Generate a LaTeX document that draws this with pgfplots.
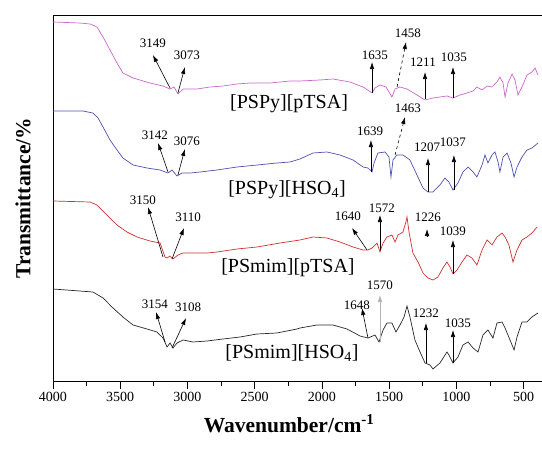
\documentclass[border=0pt]{standalone}
\usepackage{fontspec}
\setmainfont{Liberation Serif}
\usepackage{pgfplots}
\pgfplotsset{compat=1.18}
\usetikzlibrary{arrows.meta}
\definecolor{cmag}{RGB}{204,102,204}
\definecolor{cblu}{RGB}{80,80,176}
\definecolor{cred}{RGB}{208,48,48}
\definecolor{cblk}{RGB}{40,40,40}
\tikzset{arr/.style={-{Latex[length=7pt,width=4.5pt]}, line width=0.6pt, black},
 num/.style={font=\fontsize{13}{15}\selectfont, inner sep=0pt},
 lab/.style={font=\fontsize{20}{24}\selectfont, inner sep=0pt}}
\begin{document}
\begin{tikzpicture}
\begin{axis}[name=ax, scale only axis, width=492pt, height=366pt,
 x dir=reverse, xmin=342, xmax=4000, ymin=70, ymax=436,
 xtick={500,1000,...,4000}, minor x tick num=1, ytick=\empty,
 tick align=outside, xtick pos=bottom, major tick length=8pt, minor tick length=5pt,
 axis line style={line width=0.9pt}, every tick/.style={black, line width=0.9pt},
 /pgf/number format/assume math mode=true,
 xticklabel style={font=\fontsize{14}{16}\selectfont, /pgf/number format/1000 sep={}},
 xlabel={Wavenumber/cm\textsuperscript{-1}},
 xlabel style={font=\fontsize{21.5}{25}\selectfont\bfseries, at={(axis description cs:0.48,-0.117)}, anchor=center},
 ylabel={Transmittance/\%},
 ylabel style={font=\fontsize{21.5}{25}\selectfont\bfseries, at={(axis description cs:-0.061,0.50)}, anchor=center},
]
% magenta [PSPy][pTSA]
\addplot[cmag, line width=0.7pt] coordinates {
(4000,429)(3800,428)(3725,427)(3673,424)(3628,414)(3576,401)(3524,388)(3480,378)(3405,373)(3279,368)(3182,365)(3130,362)(3100,364)(3071,357)(3033,362)(2981,362)(2929,362)(2833,364)(2736,365)(2632,367)(2535,368)(2387,368)(2238,370)(2164,370)(2015,371)(1918,372)(1792,369)(1695,364)(1628,358)(1606,363)(1569,366)(1524,364)(1480,354)(1457,362)(1420,364)(1368,362)(1294,356)(1234,351)(1175,353)(1123,354)(1071,355)(1026,353)(974,356)(922,358)(877,360)(848,364)(810,361)(773,365)(736,364)(699,369)(677,374)(654,368)(639,354)(617,368)(587,377)(565,371)(543,356)(513,364)(476,376)(439,379)(416,383)(394,376)
};
% blue [PSPy][HSO4]
\addplot[cblu, line width=0.7pt] coordinates {
(4000,340)(3777,340)(3703,338)(3665,333)(3628,324)(3576,311)(3524,301)(3480,293)(3405,286)(3301,283)(3204,281)(3145,278)(3115,281)(3078,275)(3041,278)(2981,278)(2907,279)(2781,281)(2632,284)(2483,286)(2335,288)(2238,289)(2164,292)(2067,298)(1963,299)(1866,296)(1769,291)(1695,284)(1658,283)(1628,279)(1613,288)(1584,298)(1532,299)(1502,294)(1487,274)(1472,291)(1443,296)(1398,296)(1346,291)(1294,276)(1249,263)(1212,259)(1175,259)(1123,266)(1086,273)(1056,269)(1026,261)(989,268)(952,279)(914,284)(877,279)(848,274)(810,286)(788,296)(766,288)(736,296)(714,299)(691,289)(677,279)(654,294)(624,298)(595,288)(572,274)(550,284)(513,294)(476,301)(439,303)(394,308)
};
% red [PSmim][pTSA]
\addplot[cred, line width=0.7pt] coordinates {
(4000,250)(3725,249)(3673,246)(3599,236)(3524,226)(3450,219)(3375,214)(3279,210)(3204,208)(3167,194)(3152,193)(3130,195)(3108,192)(3071,196)(3033,198)(2981,198)(2929,198)(2855,198)(2780,199)(2632,202)(2483,204)(2312,208)(2164,211)(2067,214)(1963,213)(1866,209)(1769,204)(1695,201)(1658,201)(1628,203)(1591,208)(1569,199)(1546,208)(1517,214)(1480,216)(1457,209)(1435,216)(1398,219)(1376,229)(1368,234)(1353,219)(1324,198)(1286,189)(1249,178)(1212,173)(1175,171)(1138,174)(1101,183)(1071,189)(1048,184)(1026,177)(996,181)(959,189)(922,196)(885,193)(848,186)(810,201)(773,211)(736,206)(699,214)(661,218)(639,214)(610,206)(580,189)(550,201)(513,211)(476,214)(439,218)(401,224)
};
% black [PSmim][HSO4]
\addplot[cblk, line width=0.7pt] coordinates {
(4000,162)(3703,159)(3628,153)(3554,143)(3480,134)(3405,126)(3301,122)(3227,119)(3182,113)(3152,104)(3130,108)(3108,103)(3078,108)(3033,111)(2959,109)(2855,110)(2736,112)(2610,114)(2483,117)(2335,118)(2186,122)(2164,123)(2037,126)(1918,126)(1814,122)(1717,115)(1658,113)(1606,116)(1576,109)(1546,121)(1517,128)(1480,128)(1450,119)(1420,126)(1390,134)(1368,145)(1346,134)(1309,111)(1271,99)(1234,88)(1197,86)(1175,82)(1123,88)(1071,99)(1056,96)(1026,88)(989,94)(952,106)(914,109)(877,103)(840,99)(803,116)(766,121)(729,113)(699,128)(661,129)(639,123)(602,111)(572,101)(550,114)(513,129)(476,129)(439,134)(394,138)
};
% ---- annotations: magenta
\node[num] at (axis cs:3257,408) {3149};
\draw[arr] (axis cs:3130,363) -- (axis cs:3257,396);
\node[num] at (axis cs:3004,396) {3073};
\draw[arr] (axis cs:3071,358) -- (axis cs:3019,384);
\node[lab] at (axis cs:2245,347) {[PSPy][pTSA]};
\node[num] at (axis cs:1606,396) {1635};
\draw[arr] (axis cs:1628,358) -- (axis cs:1628,389);
\node[num] at (axis cs:1361,418) {1458};
\draw[arr, dashed] (axis cs:1442,364) -- (axis cs:1375,409);
\node[num] at (axis cs:1249,389) {1211};
\draw[arr] (axis cs:1234,352) -- (axis cs:1234,379);
\node[num] at (axis cs:1019,394) {1035};
\draw[arr] (axis cs:1026,353) -- (axis cs:1026,384);
% blue
\node[num] at (axis cs:3242,316) {3142};
\draw[arr] (axis cs:3145,279) -- (axis cs:3219,308);
\node[num] at (axis cs:3004,310) {3076};
\draw[arr] (axis cs:3071,276) -- (axis cs:3019,302);
\node[lab] at (axis cs:2260,261) {[PSPy][HSO\textsubscript{4}]};
\node[num] at (axis cs:1643,320) {1639};
\draw[arr] (axis cs:1636,279) -- (axis cs:1636,311);
\node[num] at (axis cs:1361,343) {1463};
\draw[arr, dashed] (axis cs:1457,296) -- (axis cs:1383,334);
\node[num] at (axis cs:1219,304) {1207};
\draw[arr] (axis cs:1212,259) -- (axis cs:1212,293);
\node[num] at (axis cs:1026,309) {1037};
\draw[arr] (axis cs:1019,261) -- (axis cs:1019,296);
% red
\node[num] at (axis cs:3331,251) {3150};
\draw[arr] (axis cs:3182,194) -- (axis cs:3294,244);
\node[num] at (axis cs:2996,234) {3110};
\draw[arr] (axis cs:3115,192) -- (axis cs:3026,223);
\node[lab] at (axis cs:2253,183) {[PSmim][pTSA]};
\node[num] at (axis cs:1807,235) {1640};
\draw[arr] (axis cs:1665,201) -- (axis cs:1777,223);
\node[num] at (axis cs:1554,243) {1572};
\draw[arr] (axis cs:1569,201) -- (axis cs:1569,236);
\node[num] at (axis cs:1212,234) {1226};
\draw[arr] (axis cs:1219,215) -- (axis cs:1219,222);
\node[num] at (axis cs:1026,220) {1039};
\draw[arr] (axis cs:1026,177) -- (axis cs:1026,211);
% black
\node[num] at (axis cs:3242,147) {3154};
\draw[arr] (axis cs:3167,109) -- (axis cs:3234,139);
\node[num] at (axis cs:2996,144) {3108};
\draw[arr] (axis cs:3115,103) -- (axis cs:3011,133);
\node[lab] at (axis cs:2223,98) {[PSmim][HSO\textsubscript{4}]};
\node[num] at (axis cs:1740,146) {1648};
\draw[arr] (axis cs:1658,113) -- (axis cs:1703,143);
\node[num] at (axis cs:1569,166) {1570};
\draw[arr, draw=gray!60] (axis cs:1569,109) -- (axis cs:1569,156);
\node[num] at (axis cs:1227,138) {1232};
\draw[arr] (axis cs:1227,88) -- (axis cs:1227,128);
\node[num] at (axis cs:989,128) {1035};
\draw[arr] (axis cs:1026,88) -- (axis cs:1026,121);
\end{axis}
\pgfresetboundingbox
\path ([shift={(-53pt,-70pt)}]ax.south west) rectangle ([shift={(-3pt,15pt)}]ax.north east);
\end{tikzpicture}
\end{document}
